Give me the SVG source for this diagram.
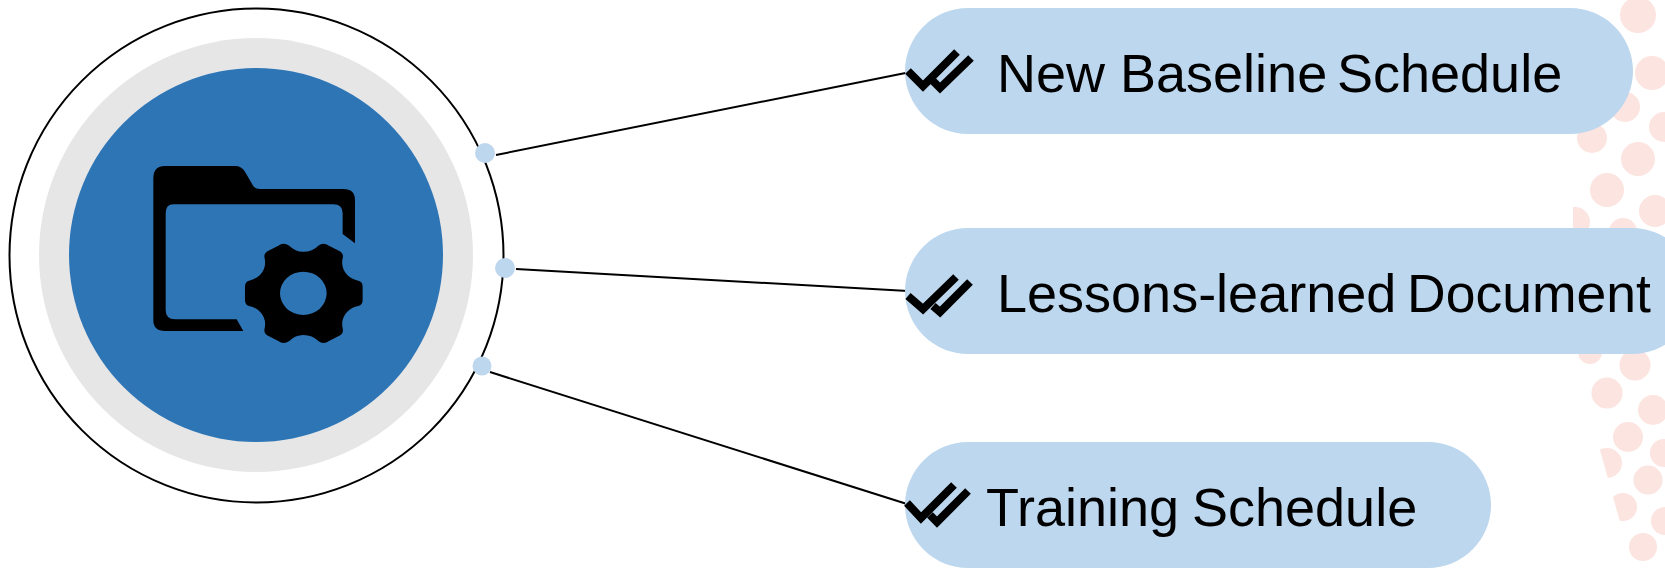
<svg xmlns="http://www.w3.org/2000/svg" width="1665" height="568" viewBox="0 0 1665 568">
<style>
.pill{fill:#bdd7ee}
.dot{fill:#bdd7ee}
.lbl{font-family:"Liberation Sans",Arial,sans-serif;font-size:54px;fill:#000}
.chk{fill:none;stroke:#000;stroke-width:8;stroke-linejoin:miter}
.con{fill:none;stroke:#000;stroke-width:2}
.bg circle{fill:#fce4e0}
</style>
<defs><clipPath id="bgclip"><path d="M1573 0H1665V568H1625L1620 522L1600 450L1590 400L1573 360Z"/></clipPath></defs>
<rect width="1665" height="568" fill="#fff"/>
<g id="dots" class="bg" clip-path="url(#bgclip)">
<circle cx="1638" cy="15" r="18"/><circle cx="1652" cy="73" r="17"/><circle cx="1625" cy="107" r="15"/><circle cx="1592" cy="138" r="15"/><circle cx="1664" cy="127" r="15"/><circle cx="1638" cy="159" r="17"/><circle cx="1607" cy="190" r="17"/><circle cx="1655" cy="211" r="16"/><circle cx="1575" cy="222" r="15"/><circle cx="1623" cy="232" r="14"/><circle cx="1590" cy="352" r="12"/><circle cx="1635" cy="365" r="15.500"/><circle cx="1607" cy="393" r="15.500"/><circle cx="1653" cy="410" r="15"/><circle cx="1628" cy="437" r="15"/><circle cx="1664" cy="453" r="14"/><circle cx="1607" cy="463" r="15"/><circle cx="1648" cy="480" r="14.500"/><circle cx="1623" cy="507" r="14"/><circle cx="1665" cy="521" r="14"/><circle cx="1643" cy="547" r="14"/>
</g>
<g id="connectors">
<line class="con" x1="496" y1="155" x2="908" y2="72.500"/>
<line class="con" x1="516" y1="269" x2="908" y2="291"/>
<line class="con" x1="490" y1="372" x2="907" y2="504"/>
</g>
<g id="hub">
<circle cx="256.500" cy="255.500" r="247" fill="#fff" stroke="#000" stroke-width="2"/>
<circle cx="256" cy="255" r="217" fill="#e6e6e6"/>
<circle cx="256" cy="255" r="187" fill="#2e75b6"/>
<g transform="translate(130 150) scale(0.3333)">
<path fill="#000" d="M105 48H315Q335 48 345 65L368 105Q374 117 390 117H640Q675 117 675 150V280L638 252V190Q638 163 610 163H130Q107 163 107 190V480Q107 508 135 508H320L340 543H105Q70 543 70 510V85Q70 48 105 48Z"/>
<path fill="#000" fill-rule="evenodd" d="M445 287Q460 275 478 287Q495 305 520 305Q548 305 565 287Q580 275 597 287L628 303Q642 310 638 325Q632 355 652 375Q665 388 685 392Q698 395 698 410V450Q698 465 685 468Q665 472 652 485Q632 505 638 535Q642 550 628 557L597 573Q580 585 565 573Q548 555 520 555Q495 555 478 573Q460 585 445 573L414 557Q400 550 404 535Q410 505 390 485Q377 472 357 468Q345 465 345 450V410Q345 395 357 392Q377 388 390 375Q410 355 404 325Q400 310 414 303ZM520 365A70 65 0 1 0 520 495A70 65 0 1 0 520 365Z"/>
</g>
</g>
<g id="port-1"><circle class="dot" cx="485" cy="153" r="10"/></g>
<g id="port-2"><circle class="dot" cx="505" cy="268" r="10"/></g>
<g id="port-3"><circle class="dot" cx="482" cy="366" r="9.500"/></g>
<g id="node-1">
<rect class="pill" x="905" y="8" width="728" height="126" rx="63"/>
<path class="chk" d="M908 71L923 86L957 52M933 81L940 88L971 58"/>
<text class="lbl" x="997" y="92">New Baseline <tspan x="1337">Schedule</tspan></text>
</g>
<g id="node-2">
<rect class="pill" x="905" y="228" width="790" height="126" rx="63"/>
<path class="chk" d="M908 296L923 309L956 277M933 306L940 312L970 282"/>
<text class="lbl" x="997" y="312">Lessons-learned <tspan x="1407" font-size="53.500">Document</tspan></text>
</g>
<g id="node-3">
<rect class="pill" x="905" y="442" width="586" height="126" rx="63"/>
<path class="chk" d="M907 503L921 518L954 485M930 515L937 522L968 491"/>
<text class="lbl" x="986" y="526">Training <tspan x="1192">Schedule</tspan></text>
</g>
</svg>
